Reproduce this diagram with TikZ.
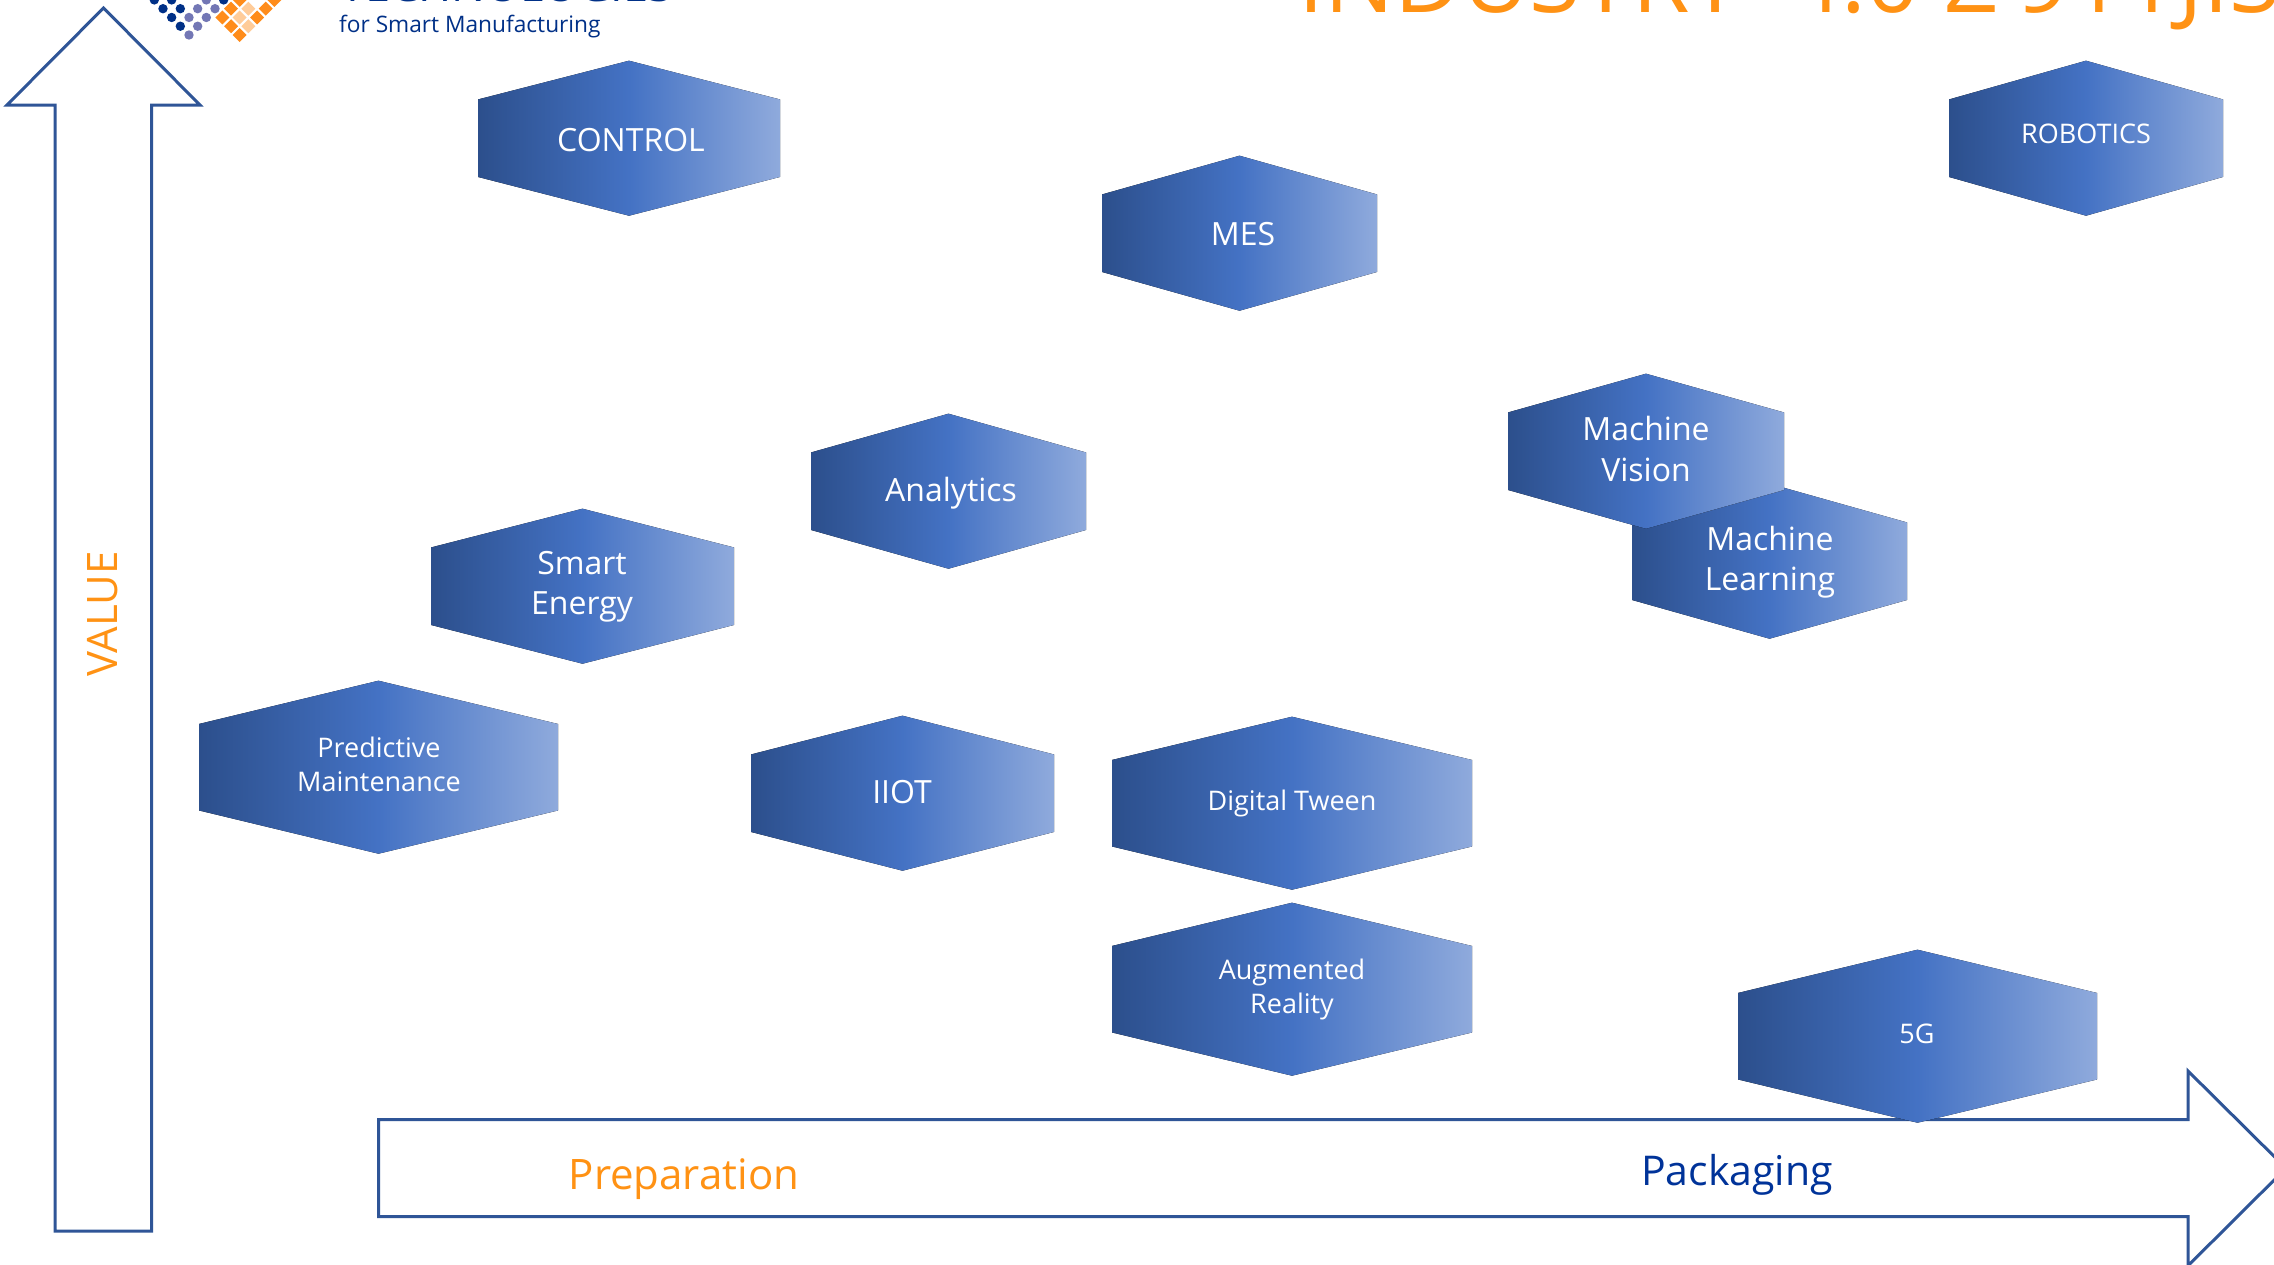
\documentclass[tikz,border=0pt]{standalone}
\usepackage{fontspec}
\setmainfont{Open Sans}
\definecolor{arrowblue}{HTML}{2F5597}
\definecolor{hexdark}{HTML}{2C4F8C}
\definecolor{hexmid}{HTML}{4472C4}
\definecolor{hexlight}{HTML}{8FAADC}
\definecolor{titleorange}{HTML}{FF9214}
\definecolor{navy}{HTML}{003399}
\definecolor{logodark}{HTML}{003087}
\definecolor{logolight}{HTML}{7377B5}
\definecolor{logoorange}{HTML}{FF8C1A}
\definecolor{logopale}{HTML}{FFCC99}
\newcommand{\hexa}[5]{% name, left, right, top, bottom
  \fill[left color=hexdark,right color=hexlight,middle color=hexmid]
    (#2,{#4+0.25*(#5-#4)}) -- ({(#2+#3)/2},#4) -- (#3,{#4+0.25*(#5-#4)}) --
    (#3,{#5-0.25*(#5-#4)}) -- ({(#2+#3)/2},#5) -- (#2,{#5-0.25*(#5-#4)}) -- cycle;}
\tikzset{
  x=1pt,y=-1pt,
  hexlabel/.style={text=white,align=center,inner sep=0pt},
  big/.style={font=\fontsize{32}{40.5}\selectfont},
  small/.style={font=\fontsize{27}{34}\selectfont},
  outlinearrow/.style={draw=arrowblue,line width=3pt,fill=white,miter limit=10},
}
\begin{document}
\begin{tikzpicture}
\useasboundingbox (0,0) rectangle (2274,1264);
\clip (0,0) rectangle (2274,1264);
\fill[white] (0,0) rectangle (2274,1264);
% logo
\foreach \i/\j in {0/1,0/2,0/3,0/4,1/2,1/3,4/0}
  \fill[logodark] ({189+8.67*(\i-\j)},{35-8.77*(\i+\j)}) circle[radius=4.7];
\foreach \i/\j in {0/0,1/0,1/1,2/0,2/1,3/0,3/1}
  \fill[logolight] ({189+8.67*(\i-\j)},{35-8.77*(\i+\j)}) circle[radius=4.7];
\foreach \i/\j in {0/0,0/1,0/2,2/0,1/2,3/0,2/2,4/0}{
  \fill[logoorange] ({239.7+8.67*(\i-\j)},{35-8.77*(\i+\j)}) ++(-7,0) -- ++(7,-7) -- ++(7,7) -- ++(-7,7) -- cycle;}
\foreach \i/\j in {1/0,1/1,2/1}{
  \fill[logopale] ({239.7+8.67*(\i-\j)},{35-8.77*(\i+\j)}) ++(-7,0) -- ++(7,-7) -- ++(7,7) -- ++(-7,7) -- cycle;}
\node[anchor=base west,inner sep=0pt,text=logodark,font=\fontsize{45}{45}\selectfont] (tech) at (340,1) {TECHNOLOGIES};
\node[anchor=base west,inner sep=0pt,text=logodark,font=\fontsize{22.7}{28}\selectfont] (sub) at (339,32) {for Smart Manufacturing};
\node[anchor=base west,inner sep=0pt,text=titleorange,font=\fontsize{93}{100}\selectfont] (title) at (1298,12.5) {INDUSTRY\hspace{47pt}4.0 Σ\hspace{-4pt} 911\hspace{-22pt} JIS};
% arrows
\path[outlinearrow] (55,1231) -- (55,105) -- (7,105) -- (103.5,8) -- (200,105) -- (151.5,105) -- (151.5,1231) -- cycle;
\path[outlinearrow] (378.5,1119.7) -- (2188,1119.7) -- (2188,1071) -- (2286,1168.2) -- (2188,1265.7) -- (2188,1216.7) -- (378.5,1216.7) -- cycle;
% hexagons
\begin{scope}[yshift=-0.7pt]
\hexa{control}{478}{780}{60}{215}
\hexa{robotics}{1949}{2223}{60}{215}
\hexa{mes}{1102}{1377}{155}{310}
\hexa{learning}{1632}{1907}{483}{638}
\hexa{vision}{1508}{1784}{373}{528}
\hexa{analytics}{811}{1086}{413}{568}
\hexa{energy}{431}{734}{508}{663}
\hexa{predictive}{199}{558}{680}{853}
\hexa{iiot}{751}{1054}{715}{870}
\hexa{tween}{1112}{1472}{716}{889}
\hexa{reality}{1112}{1472}{902}{1075}
\hexa{fiveg}{1738}{2097}{949}{1122}
\end{scope}
% hexagon labels
\node[hexlabel,big] (lcontrol) at (631,140) {CONTROL};
\node[hexlabel,small] (lrobotics) at (2086,134) {ROBOTICS};
\node[hexlabel,big] (lmes) at (1243,234) {MES};
\node[hexlabel,big] (lvision) at (1646,449) {Machine\\Vision};
\node[hexlabel,big] (llearning) at (1770,562) {Machine\\Learning};
\node[hexlabel,big] (lanalytics) at (951,493) {Analytics};
\node[hexlabel,big] (lenergy) at (582,586.5) {Smart\\Energy};
\node[hexlabel,small] (lpredictive) at (379,764) {Predictive\\Maintenance};
\node[hexlabel,big] (liiot) at (902,792) {IIOT};
\node[hexlabel,small] (ltween) at (1292,803) {Digital Tween};
\node[hexlabel,small] (lreality) at (1292,989.5) {Augmented\\Reality};
\node[hexlabel,small] (lfiveg) at (1917,1034) {5G};
% axis labels
\node[inner sep=0pt,text=titleorange,rotate=90,font=\fontsize{42}{48}\selectfont] (value) at (103,614) {VALUE};
\node[inner sep=0pt,text=titleorange,font=\fontsize{42}{50}\selectfont] (prep) at (684,1179) {Preparation};
\node[inner sep=0pt,text=navy,font=\fontsize{41}{50}\selectfont] (pack) at (1737,1175) {Packaging};
\end{tikzpicture}
\end{document}
